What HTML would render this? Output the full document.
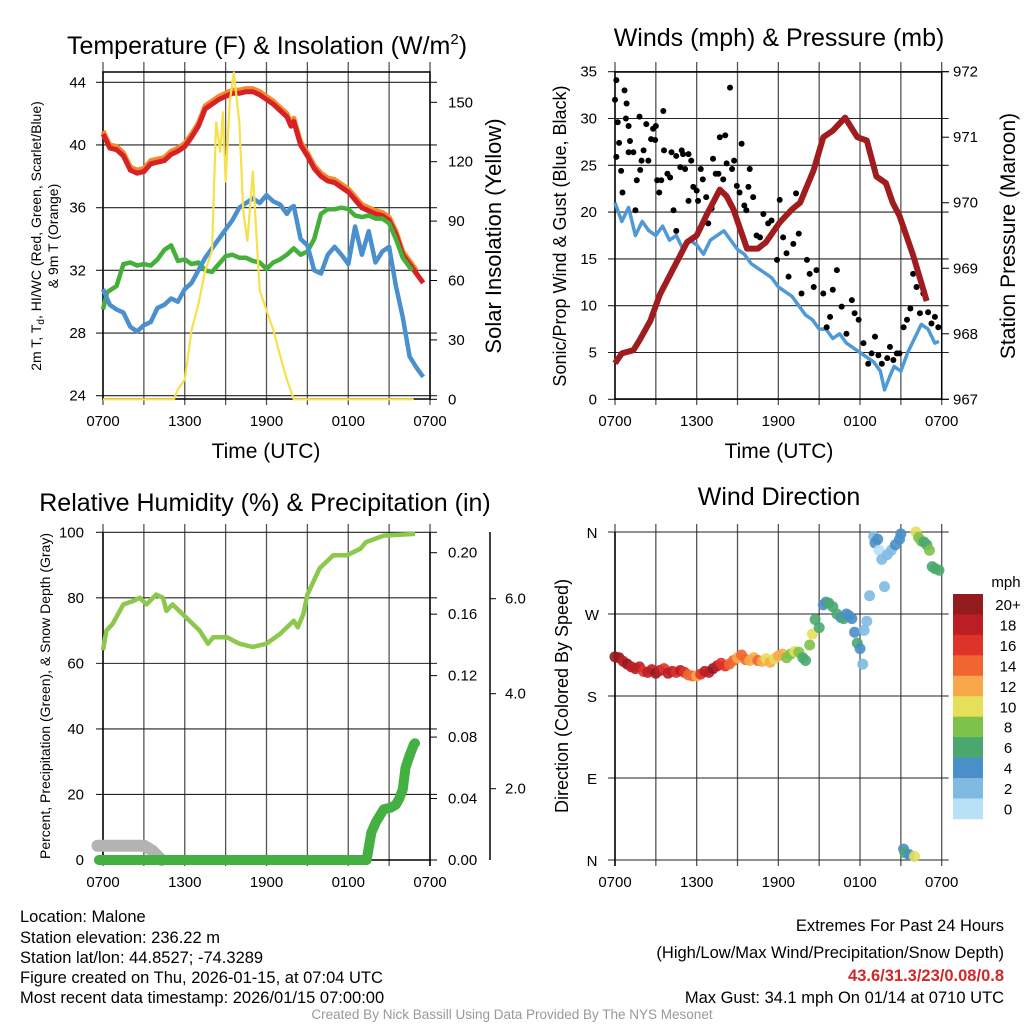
<!DOCTYPE html>
<html><head><meta charset="utf-8"><style>
body{margin:0;background:#fff;}
svg{display:block;font-family:"Liberation Sans",Arial,sans-serif;}
</style></head><body>
<svg id="fig" width="1024" height="1024" viewBox="0 0 1024 1024" xmlns="http://www.w3.org/2000/svg">
<rect width="1024" height="1024" fill="#fff"/>
<text x="267" y="54" font-size="25" text-anchor="middle">Temperature (F) &amp; Insolation (W/m<tspan dy="-10" font-size="15">2</tspan><tspan dy="10">)</tspan></text>
<text x="779" y="46" font-size="25" text-anchor="middle">Winds (mph) &amp; Pressure (mb)</text>
<text x="265" y="511" font-size="25" text-anchor="middle">Relative Humidity (%) &amp; Precipitation (in)</text>
<text x="779" y="505" font-size="25" text-anchor="middle">Wind Direction</text>
<text x="266" y="458" font-size="21" text-anchor="middle">Time (UTC)</text>
<text x="779" y="458" font-size="21" text-anchor="middle">Time (UTC)</text>
<text transform="translate(41,236) rotate(-90)" font-size="14" text-anchor="middle">2m T, T<tspan dy="3" font-size="10">d</tspan><tspan dy="-3">, HI/WC (Red, Green, Scarlet/Blue)</tspan></text>
<text transform="translate(58,236) rotate(-90)" font-size="14" text-anchor="middle">&amp; 9m T (Orange)</text>
<text transform="translate(501,236) rotate(-90)" font-size="22" text-anchor="middle">Solar Insolation (Yellow)</text>
<text transform="translate(566,236) rotate(-90)" font-size="18" text-anchor="middle">Sonic/Prop Wind &amp; Gust (Blue, Black)</text>
<text transform="translate(1015,236) rotate(-90)" font-size="21" text-anchor="middle">Station Pressure (Maroon)</text>
<text transform="translate(50,696) rotate(-90)" font-size="14" text-anchor="middle">Percent, Precipitation (Green), &amp; Snow Depth (Gray)</text>
<text transform="translate(568,696) rotate(-90)" font-size="18" text-anchor="middle">Direction (Colored By Speed)</text>
<g font-size="16.5">
<text x="20" y="922">Location: Malone</text>
<text x="20" y="943">Station elevation: 236.22 m</text>
<text x="20" y="963">Station lat/lon: 44.8527; -74.3289</text>
<text x="20" y="983">Figure created on Thu, 2026-01-15, at 07:04 UTC</text>
<text x="20" y="1003">Most recent data timestamp: 2026/01/15 07:00:00</text>
</g>
<g font-size="16.5" text-anchor="end">
<text x="1004" y="931">Extremes For Past 24 Hours</text>
<text x="1004" y="958">(High/Low/Max Wind/Precipitation/Snow Depth)</text>
<text x="1004" y="981" fill="#d62728" font-weight="bold">43.6/31.3/23/0.08/0.8</text>
<text x="1004" y="1003">Max Gust: 34.1 mph On 01/14 at 0710 UTC</text>
</g>
<text x="512" y="1019" font-size="13.5" fill="#999" text-anchor="middle">Created By Nick Bassill Using Data Provided By The NYS Mesonet</text>
</svg>
<script>
// ---- data ----
const xTickLabels = ['0700','1300','1900','0100','0700'];
const tempTicks = [24,28,32,36,40,44];
const solarTicks = [0,30,60,90,120,150];
const windTicks = [0,5,10,15,20,25,30,35];
const presTicks = [967,968,969,970,971,972];
const rhTicks = [0,20,40,60,80,100];
const precTicks = ['0.00','0.04','0.08','0.12','0.16','0.20'];
const snowTicks = ['2.0','4.0','6.0'];
const dirTicks = ['N','E','S','W','N'];
const speedBins = ['20+','18','16','14','12','10','8','6','4','2','0'];
const speedColors = ['#931a1d','#bb1e25','#dd3328','#f06630','#f8a84a','#e6df5a','#7dc24a','#4aa86e','#4a8fc7','#7fbae3','#b8e1f5'];

const tHours = [0,0.5,1,1.5,2,2.5,3,3.5,4,4.5,5,5.5,6,6.5,7,7.5,8,8.5,9,9.5,10,10.5,11,11.5,12,12.5,13,13.5,13.8,14,14.5,15,15.5,16,16.5,17,17.5,18,18.5,19,19.5,20,20.5,21,21.5,22,22.5,23,23.5];
const tempRed = [40.7,39.8,39.7,39.3,38.4,38.2,38.3,38.8,38.9,39.0,39.4,39.6,39.9,40.5,41.2,42.3,42.6,42.9,43.1,43.3,43.3,43.4,43.4,43.2,42.9,42.6,42.2,41.8,41.2,41.5,40.0,39.3,38.5,38.0,37.7,37.6,37.3,37.0,36.5,36.0,35.8,35.6,35.5,35.2,34.3,33.0,32.4,31.8,31.2];
const gHours = [0,0.3,1,1.5,2,2.5,3,3.5,4,4.5,5,5.5,6,6.5,7,7.5,8,8.5,9,9.5,10,10.5,11,11.5,12,12.5,13,13.5,14,14.5,15,15.5,16,16.5,17,17.5,18,18.5,19,19.5,20,20.5,21,21.5,22,22.5,22.7];
const dewGreen = [29.5,30.6,31.0,32.4,32.5,32.3,32.4,32.3,32.7,33.3,33.6,32.6,32.7,32.4,32.5,32.0,31.9,32.4,32.9,33.0,32.8,32.8,32.6,32.5,32.1,32.5,32.7,33.0,33.4,33.0,33.2,34.0,35.6,35.9,35.9,36.0,35.9,35.5,35.4,35.5,35.3,35.3,35.0,34.0,32.8,32.2,32.0];
const wcBlue = [30.8,29.8,29.5,29.3,28.4,28.1,28.5,28.7,29.6,29.8,30.2,30.0,30.8,31.2,32.0,32.8,33.4,34.0,34.6,35.2,36.0,36.3,36.6,36.3,36.8,36.4,36.2,35.6,36.0,36.1,34.0,33.6,32.0,31.8,33.0,33.5,33.0,32.4,34.8,33.0,34.5,32.5,33.2,33.5,31.0,29.0,26.5,25.8,25.2];
const sHours = [0,5.2,5.5,6,6.5,7,7.5,8,8.3,8.6,8.8,9,9.3,9.6,10,10.3,10.6,11,11.2,11.5,12,12.5,13,13.5,14,22.8];
const solar = [0,0,5,10,35,48,65,75,140,125,145,110,150,165,140,95,80,115,90,55,45,35,22,10,0,0];

const wHours = [0,0.5,1,1.5,2,2.5,3,3.5,4,4.5,5,5.5,6,6.5,7,7.5,8,8.5,9,9.5,10,10.5,11,11.5,12,12.5,13,13.5,14,14.5,15,15.5,16,16.5,17,17.5,18,18.5,19,19.5,19.8,20.2,20.5,21,21.5,22,22.5,23,23.5,23.8];
const windSpd = [21,19,20.5,17.5,19,18,17.5,18.5,17,17.5,16,17,16.5,15.5,17,17.5,18,17,16,15.5,14.5,14,13.5,13,12,11.5,11,10,9,8.5,7.5,7.5,6.5,7,6,5.5,5,4.5,4,3,1,2.5,3.5,3,5,6.5,8,7.5,6,6.2];
const gustHours = [0,0.1,0.1,0.2,0.3,0.45,0.55,0.7,0.85,0.8,1,1,1.1,1.35,1.5,1.6,1.8,1.85,1.95,2.1,2.3,2.45,2.65,2.8,2.95,3,3.1,3.25,3.4,3.55,3.6,3.85,4.05,4.15,4.3,4.5,4.5,4.8,4.9,5,5.15,5.4,5.4,5.6,5.75,6,6.1,6.3,6.45,6.7,6.85,7.1,7.2,7.4,7.6,7.7,7.95,8.1,8.2,8.45,8.6,8.75,8.95,9.15,9.3,9.5,9.65,9.8,9.9,10.15,10.4,10.65,10.9,11.25,11.5,11.9,12.1,12.35,12.6,12.75,13.1,13.3,13.5,13.7,14.1,14.3,14.6,14.8,15.3,15.55,15.8,16,16.3,16.65,17,17.4,17.6,17.9,18.25,18.6,18.85,19.1,19.35,19.6,20,20.2,20.45,20.7,20.9,21.2,21.45,21.7,21.9,22.15,22.4,22.65,23,23.25,23.5,23.75];
const gustVals = [32,34.1,25.9,29.6,27.4,24.4,22.1,33,31.6,30,29.2,26.4,27.6,26.4,20.2,23.4,30.2,24.5,25.5,26.6,29.4,25.5,27.8,28.9,27.7,29.2,23.4,22.1,23.4,30.8,26.6,24.1,23.7,26.4,20.2,18,26,24.8,26.6,26.2,24.6,26.2,21.2,25.5,22.7,22.3,21.2,24.6,23.5,21.6,18.8,20.4,25.7,24.1,24.1,28,23.5,28.2,25.2,33.3,24.6,25.5,22.8,22.1,27.3,20.7,20.2,22.7,24.6,21.6,17.5,17.3,19.8,18.8,19.1,14.9,21.3,17.3,15.6,13.1,16.6,22,17.7,11.3,14.9,13.4,12,13.8,11.3,7.7,8.8,11.7,13.8,9.9,7,10.6,9.2,8.5,6,3.8,4.9,6.7,4.7,3.8,4.4,5.6,4.2,4.9,4.9,7.7,8.5,9.7,13.4,12,9.2,11.3,9.3,8.1,8.8,7.7];
const pHours = [0,0.5,1.35,1.8,2.6,3.3,4.3,5.3,6,6.7,7.7,8.2,8.7,9.7,10.5,11.1,12.1,13.0,13.6,14.6,15.3,16,16.9,17.8,18.5,19.2,19.9,20.4,20.9,21.9,22.9];
const pressure = [967.55,967.7,967.75,967.9,968.2,968.6,969.0,969.4,969.5,969.8,970.2,970.1,969.9,969.3,969.3,969.4,969.7,969.9,970.0,970.5,971.0,971.1,971.3,971.0,970.95,970.4,970.3,970.0,969.8,969.2,968.5];

const rhHours = [0,0.25,0.7,1.5,2.2,2.7,3.2,3.9,4.4,4.65,5.1,6.1,7.1,7.7,8.1,9.1,10,11,12,13,14,14.3,14.7,15,15.9,16.9,17.9,18.9,19.3,20.6,22.9];
const rhVals = [64,70,72,78,79,80,78,81,80,76,78,74,70,66,68,68,66,65,66,69,73,71,75,81,89,93,93,95,97,99,99.5];
const precHours = [-0.3,19.35,19.7,20.05,20.6,21.1,21.5,21.75,22,22.2,22.5,22.8,22.9];
const precVals = [0,0,0.018,0.025,0.033,0.034,0.036,0.04,0.046,0.06,0.068,0.075,0.076];
const snowHours = [-0.4,3.0,3.6,4.3];
const snowVals = [0.8,0.8,0.7,0.5];

const dirHours = [0,0.3,0.6,0.9,1.2,1.5,1.8,2.1,2.4,2.7,3.0,3.3,3.6,3.9,4.2,4.5,4.8,5.1,5.4,5.7,6.0,6.3,6.6,6.9,7.2,7.5,7.8,8.1,8.4,8.7,9.0,9.3,9.6,9.9,10.2,10.5,10.8,11.1,11.4,11.7,12.0,12.3,12.6,12.9,13.2,13.5,13.8,14.0,14.3,14.5,14.7,15.0,15.3,15.5,15.7,16.0,16.3,16.6,16.8,17.0,17.2,17.4,17.6,17.8,18.0,18.2,18.3,18.5,18.7,19.0,19.1,19.3,19.4,19.6,19.8,20.0,20.3,20.6,20.9,21.0,21.2,21.3,21.6,22.0,22.1,22.3,22.5,22.7,22.9,23.1,23.3,23.5,23.8];
const dirVals = [223,222,218,215,212,210,212,207,206,209,205,208,210,205,207,206,208,206,203,202,202,204,207,206,210,213,216,213,215,219,222,225,220,219,222,219,218,221,217,221,224,226,222,226,229,228,222,219,236,248,264,255,280,283,282,278,270,266,265,270,268,265,250,238,232,215,252,262,290,355,348,352,340,330,300,335,340,346,352,358,12,8,6,4,360,354,350,349,346,340,322,320,318];
const dirSpeed = [20,20,19,20,19,18,19,17,18,19,20,18,17,19,18,17,19,16,15,14,13,16,18,19,20,18,17,16,15,14,13,14,15,13,12,14,13,11,12,10,12,13,9,8,11,9,7,6,8,10,7,6,4,5,6,7,6,5,6,4,4,4,5,6,4,3,2,3,2,3,4,4,1,3,2,3,3,4,4,5,4,6,5,10,10,8,8,7,7,8,6,6,6];

// ---- helpers ----
const NS='http://www.w3.org/2000/svg';
const svg=document.getElementById('fig');
function el(tag,attrs,parent){const e=document.createElementNS(NS,tag);for(const k in attrs)e.setAttribute(k,attrs[k]);(parent||svg).appendChild(e);return e;}
function txt(x,y,s,size,anchor,parent){const t=el('text',{x:x,y:y,'font-size':size,'text-anchor':anchor},parent);t.textContent=s;return t;}
function pathD(xs,ys,fx,fy){return xs.map((h,i)=>(i?'L':'M')+fx(h).toFixed(1)+','+fy(ys[i]).toFixed(1)).join('');}

// axis functions
const x1=h=>103+h*327/24;
const yT=v=>395.7-(v-24)*15.67;
const yS=s=>399.3-s*1.98;
const x2=h=>615+h*326.7/24;
const yW=v=>399.3-v*9.36;
const yP=p=>399.3-(p-967)*65.52;
const yRH=v=>860-v*3.277;
const yPr=p=>860-p*1536.5;
const ySn=s=>883.7-s*47.5;
const yD=d=>860-d*0.9111;

function grid(g,x0,x1e,yTop,yBot,hLines,ext){
  for(let i=0;i<=8;i++){const x=x0+i*(x1e-x0)/8;
    const l=el('line',{x1:x,y1:yTop-ext,x2:x,y2:yBot+6,stroke:'#555','stroke-width':1.3},g);
    
    }
  hLines.forEach(y=>{const l=el('line',{x1:x0-7,y1:y,x2:x1e+7,y2:y,stroke:'#222','stroke-width':1.1},g);
    
    });
  xTickLabels.forEach((s,i)=>{const t=txt(x0+i*(x1e-x0)/4,yBot+27,s,15,'middle',g);
    
    });
}

// ---- Panel 1 ----
const g1=el('g',{});


grid(g1,103,430,72,399,tempTicks.map(yT),10);
el('rect',{x:103,y:72,width:327,height:327,fill:'none',stroke:'#000','stroke-width':1.5},g1);
tempTicks.forEach(v=>{const t=txt(86,yT(v)+5,String(v),15,'end',g1);
  
  });
solarTicks.forEach(v=>{el('line',{x1:430,y1:yS(v),x2:437,y2:yS(v),stroke:'#000'},g1);
  const t=txt(448,yS(v)+5,String(v),15,'start',g1);
  
  });
const orange=el('path',{d:pathD(tHours.slice(0,48),tempRed.slice(0,48).map(v=>v+0.2),x1,yT),fill:'none',stroke:'#f58a2c','stroke-width':5,'stroke-linejoin':'round'},g1);


const red=el('path',{d:pathD(tHours,tempRed,x1,yT),fill:'none',stroke:'#d62226','stroke-width':5,'stroke-linejoin':'round'},g1);


const green=el('path',{d:pathD(gHours,dewGreen,x1,yT),fill:'none',stroke:'#44b03a','stroke-width':4.5,'stroke-linejoin':'round'},g1);


const blue=el('path',{d:pathD(tHours,wcBlue,x1,yT),fill:'none',stroke:'#4a90cf','stroke-width':4.5,'stroke-linejoin':'round'},g1);


const yel=el('path',{d:pathD(sHours,solar,x1,yS),fill:'none',stroke:'#f7e14a','stroke-width':2.2,'stroke-linejoin':'round'},g1);



// ---- Panel 2 ----
const g2=el('g',{});


grid(g2,615,941.7,72,399,windTicks.map(yW),10);
el('rect',{x:615,y:72,width:326.7,height:327,fill:'none',stroke:'#000','stroke-width':1.5},g2);
windTicks.forEach(v=>{const t=txt(597,yW(v)+5,String(v),15,'end',g2);
  
  });
presTicks.forEach(v=>{el('line',{x1:941.7,y1:yP(v),x2:949,y2:yP(v),stroke:'#000'},g2);
  const t=txt(953,yP(v)+5,String(v),15,'start',g2);
  
  });
const wl=el('path',{d:pathD(wHours,windSpd,x2,yW),fill:'none',stroke:'#4f9ad6','stroke-width':3.5,'stroke-linejoin':'round'},g2);


gustHours.forEach((h,i)=>{const c=el('circle',{cx:x2(h),cy:yW(gustVals[i]),r:3,fill:'#000'},g2);
  
  });
const pl=el('path',{d:pathD(pHours,pressure,x2,yP),fill:'none',stroke:'#a01c1f','stroke-width':6,'stroke-linejoin':'round'},g2);



// ---- Panel 3 ----
const g3=el('g',{});


grid(g3,103,430,532,860,rhTicks.map(yRH),8);
el('line',{x1:103,y1:532,x2:103,y2:860,stroke:'#000','stroke-width':1.5},g3);
el('line',{x1:103,y1:860,x2:430,y2:860,stroke:'#000','stroke-width':1.5},g3);
el('line',{x1:430,y1:532,x2:430,y2:866,stroke:'#000','stroke-width':1.5},g3);
el('line',{x1:490,y1:532,x2:490,y2:860,stroke:'#000','stroke-width':1.5},g3);
rhTicks.forEach(v=>{const t=txt(84,yRH(v)+5,String(v),15,'end',g3);
  
  });
precTicks.forEach(s=>{const y=yPr(parseFloat(s));el('line',{x1:430,y1:y,x2:437,y2:y,stroke:'#000'},g3);
  const t=txt(448,y+5,s,15,'start',g3);
  
  });
snowTicks.forEach(s=>{const y=ySn(parseFloat(s));el('line',{x1:490,y1:y,x2:496,y2:y,stroke:'#000'},g3);
  const t=txt(505,y+5,s,15,'start',g3);
  
  });
const sn=el('path',{d:pathD(snowHours,snowVals,x1,ySn),fill:'none',stroke:'#b3b3b3','stroke-width':12,'stroke-linecap':'round','stroke-linejoin':'round'},g3);


const pr=el('path',{d:pathD(precHours,precVals,x1,yPr),fill:'none',stroke:'#45b042','stroke-width':10,'stroke-linecap':'round','stroke-linejoin':'round'},g3);


const rh=el('path',{d:pathD(rhHours,rhVals,x1,yRH),fill:'none',stroke:'#8cc84b','stroke-width':4.5,'stroke-linejoin':'round'},g3);



// ---- Panel 4 ----
const g4=el('g',{});


grid(g4,615,941.7,532,860,[0,90,180,270,360].map(yD),8);
el('line',{x1:615,y1:532,x2:615,y2:866,stroke:'#000','stroke-width':1.5},g4);
dirTicks.forEach((s,i)=>{const t=txt(592,yD(i*90)+6,s,15,'middle',g4);
  
  });
dirHours.forEach((h,i)=>{const sp=dirSpeed[i];const bi=Math.max(0,Math.min(10,10-Math.floor(sp/2)));
  const c=el('circle',{cx:x2(h),cy:yD(dirVals[i]),r:5.5,fill:speedColors[bi],'fill-opacity':0.9},g4);
  
  });
// colorbar
txt(1006,587,'mph',15,'middle',g4);
speedBins.forEach((s,i)=>{const y=594+i*20.45;
  const r=el('rect',{x:953,y:y,width:30,height:20.8,fill:speedColors[i]},g4);
  
  
  const t=txt(1008,y+16,s,15,'middle',g4);
  
  });
</script>
</body></html>
